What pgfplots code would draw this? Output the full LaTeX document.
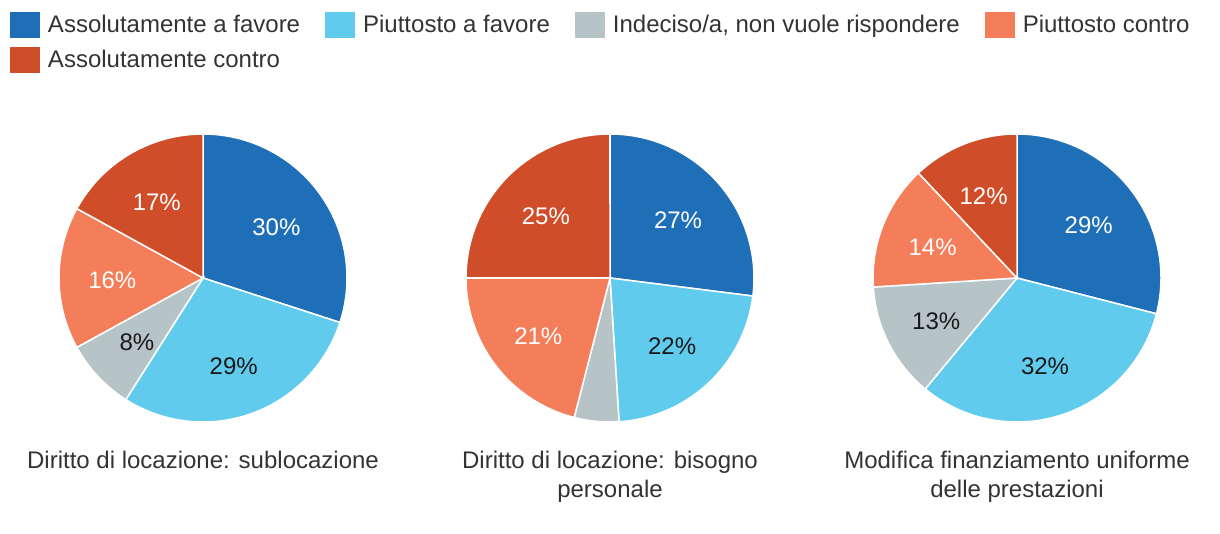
\documentclass[border=0pt]{standalone}
\usepackage{pgfplots}
\pgfplotsset{compat=1.18}
\usepackage{fontspec}
\setmainfont{Liberation Sans}
\definecolor{cA}{HTML}{1F6FB8}
\definecolor{cB}{HTML}{61CBEE}
\definecolor{cC}{HTML}{B6C4C8}
\definecolor{cD}{HTML}{F47E59}
\definecolor{cE}{HTML}{CF4D28}
\definecolor{txt}{HTML}{333333}
% start (cumulative %), value (%), colour
\newcommand\slice[3]{%
  \pgfmathsetmacro\sliceend{#1+#2}%
  \addplot[draw=white, line width=0.75pt, fill=#3, domain=#1:\sliceend, samples=90, variable=\t]
    ({sin(3.6*\t)},{cos(3.6*\t)}) -- (axis cs:0,0) -- cycle;
}
% start, value, label colour
\newcommand\slicelabel[3]{%
  \node[text=#3, font=\fontsize{12}{14}\selectfont, anchor=center, yshift=-1.2pt]
    at (axis cs:{0.63*sin(3.6*(#1+#2/2))},{0.63*cos(3.6*(#1+#2/2))}) {#2\%};
}
\pgfplotsset{pie/.style={anchor=center, x=72pt, y=72pt, xmin=-1.02, xmax=1.02, ymin=-1.02, ymax=1.02,
  hide axis, clip=false}}
\begin{document}
\begin{tikzpicture}
\path[use as bounding box] (0pt,0pt) rectangle (610pt,-267pt);
% ---------- pie 1
\begin{axis}[pie, at={(101.5pt,-139pt)},
  legend columns=4,
  legend cell align=left,
  legend image code/.code={\fill[#1, draw=none] (0pt,-6pt) rectangle (15pt,7pt);},
  legend style={draw=none, fill=none, inner sep=0pt, outer sep=0pt,
    at={(axis cs:-1.3403,1.847)}, anchor=north west,
    font=\fontsize{12}{14}\selectfont, text=txt,
    /tikz/every even column/.append style={column sep=8.5pt},
    row sep=4.5pt, nodes={inner xsep=4pt, inner ysep=0pt, text height=9pt, text depth=2.5pt}}]
\slice{0}{30}{cA}\addlegendentry{Assolutamente a favore}
\slice{30}{29}{cB}\addlegendentry{Piuttosto a favore}
\slice{59}{8}{cC}\addlegendentry{Indeciso/a, non vuole rispondere}
\slice{67}{16}{cD}\addlegendentry{Piuttosto contro}
\slice{83}{17}{cE}\addlegendentry{Assolutamente contro}
\slicelabel{0}{30}{white}
\slicelabel{30}{29}{black!90}
\slicelabel{59}{8}{black!90}
\slicelabel{67}{16}{white}
\slicelabel{83}{17}{white}
\node[anchor=base, align=center, text=txt, font=\fontsize{12}{14.5}\selectfont] at (axis cs:0,-1.32) {Diritto di locazione: sublocazione};
\end{axis}
% ---------- pie 2
\begin{axis}[pie, at={(305pt,-139pt)}]
\slice{0}{27}{cA}
\slice{27}{22}{cB}
\slice{49}{5}{cC}
\slice{54}{21}{cD}
\slice{75}{25}{cE}
\slicelabel{0}{27}{white}
\slicelabel{27}{22}{black!90}
\slicelabel{54}{21}{white}
\slicelabel{75}{25}{white}
\node[anchor=base, align=center, text=txt, font=\fontsize{12}{14.5}\selectfont] at (axis cs:0,-1.521) {Diritto di locazione: bisogno\\personale};
\end{axis}
% ---------- pie 3
\begin{axis}[pie, at={(508.5pt,-139pt)}]
\slice{0}{29}{cA}
\slice{29}{32}{cB}
\slice{61}{13}{cC}
\slice{74}{14}{cD}
\slice{88}{12}{cE}
\slicelabel{0}{29}{white}
\slicelabel{29}{32}{black!90}
\slicelabel{61}{13}{black!90}
\slicelabel{74}{14}{white}
\slicelabel{88}{12}{white}
\node[anchor=base, align=center, text=txt, font=\fontsize{12}{14.5}\selectfont] at (axis cs:0,-1.521) {Modifica finanziamento uniforme\\delle prestazioni};
\end{axis}
\end{tikzpicture}
\end{document}
